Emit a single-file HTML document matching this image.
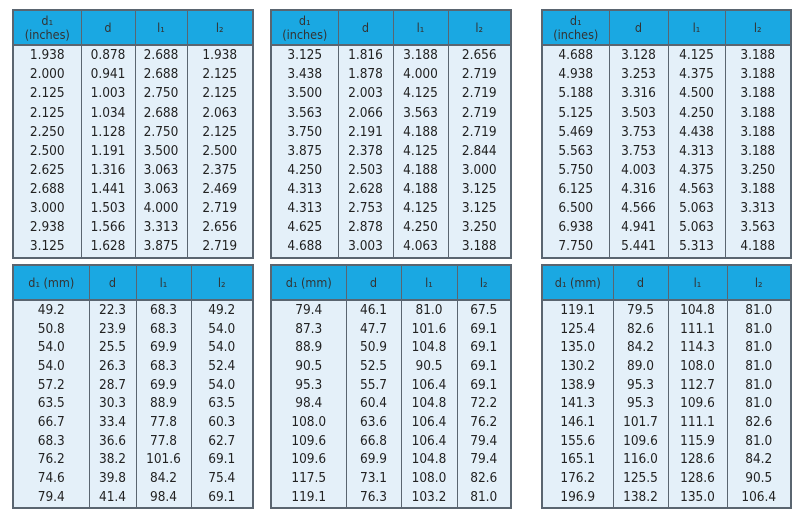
<!DOCTYPE html>
<html><head><meta charset="utf-8"><style>
body{margin:0;width:800px;height:515px;background:#fff;overflow:hidden;font-family:"DejaVu Sans Condensed","Liberation Sans",sans-serif;}
table{position:absolute;border-collapse:collapse;table-layout:fixed;border:2px solid #5a6570;background:#e4f0f9;}
td,th{text-align:center;color:#222;font-size:13.5px;padding:0;border-left:1px solid #5a6570;line-height:1}
th{background:#1aa8e2;font-weight:normal;color:#333;border-bottom:2px solid #5a6570;font-size:12.5px;line-height:1.1}
</style></head><body>
<table style="left:12px;top:9px;width:242px;height:250px">
<col style="width:68px"><col style="width:54px"><col style="width:52px"><col>
<tr style="height:35px"><th>d₁<br>(inches)</th><th>d</th><th>l₁</th><th>l₂</th></tr>
<tr><td>1.938</td><td>0.878</td><td>2.688</td><td>1.938</td></tr>
<tr><td>2.000</td><td>0.941</td><td>2.688</td><td>2.125</td></tr>
<tr><td>2.125</td><td>1.003</td><td>2.750</td><td>2.125</td></tr>
<tr><td>2.125</td><td>1.034</td><td>2.688</td><td>2.063</td></tr>
<tr><td>2.250</td><td>1.128</td><td>2.750</td><td>2.125</td></tr>
<tr><td>2.500</td><td>1.191</td><td>3.500</td><td>2.500</td></tr>
<tr><td>2.625</td><td>1.316</td><td>3.063</td><td>2.375</td></tr>
<tr><td>2.688</td><td>1.441</td><td>3.063</td><td>2.469</td></tr>
<tr><td>3.000</td><td>1.503</td><td>4.000</td><td>2.719</td></tr>
<tr><td>2.938</td><td>1.566</td><td>3.313</td><td>2.656</td></tr>
<tr><td>3.125</td><td>1.628</td><td>3.875</td><td>2.719</td></tr>
</table>
<table style="left:270px;top:9px;width:242px;height:250px">
<col style="width:67px"><col style="width:55px"><col style="width:55px"><col>
<tr style="height:35px"><th>d₁<br>(inches)</th><th>d</th><th>l₁</th><th>l₂</th></tr>
<tr><td>3.125</td><td>1.816</td><td>3.188</td><td>2.656</td></tr>
<tr><td>3.438</td><td>1.878</td><td>4.000</td><td>2.719</td></tr>
<tr><td>3.500</td><td>2.003</td><td>4.125</td><td>2.719</td></tr>
<tr><td>3.563</td><td>2.066</td><td>3.563</td><td>2.719</td></tr>
<tr><td>3.750</td><td>2.191</td><td>4.188</td><td>2.719</td></tr>
<tr><td>3.875</td><td>2.378</td><td>4.125</td><td>2.844</td></tr>
<tr><td>4.250</td><td>2.503</td><td>4.188</td><td>3.000</td></tr>
<tr><td>4.313</td><td>2.628</td><td>4.188</td><td>3.125</td></tr>
<tr><td>4.313</td><td>2.753</td><td>4.125</td><td>3.125</td></tr>
<tr><td>4.625</td><td>2.878</td><td>4.250</td><td>3.250</td></tr>
<tr><td>4.688</td><td>3.003</td><td>4.063</td><td>3.188</td></tr>
</table>
<table style="left:541px;top:9px;width:251px;height:250px">
<col style="width:67px"><col style="width:59px"><col style="width:57px"><col>
<tr style="height:35px"><th>d₁<br>(inches)</th><th>d</th><th>l₁</th><th>l₂</th></tr>
<tr><td>4.688</td><td>3.128</td><td>4.125</td><td>3.188</td></tr>
<tr><td>4.938</td><td>3.253</td><td>4.375</td><td>3.188</td></tr>
<tr><td>5.188</td><td>3.316</td><td>4.500</td><td>3.188</td></tr>
<tr><td>5.125</td><td>3.503</td><td>4.250</td><td>3.188</td></tr>
<tr><td>5.469</td><td>3.753</td><td>4.438</td><td>3.188</td></tr>
<tr><td>5.563</td><td>3.753</td><td>4.313</td><td>3.188</td></tr>
<tr><td>5.750</td><td>4.003</td><td>4.375</td><td>3.250</td></tr>
<tr><td>6.125</td><td>4.316</td><td>4.563</td><td>3.188</td></tr>
<tr><td>6.500</td><td>4.566</td><td>5.063</td><td>3.313</td></tr>
<tr><td>6.938</td><td>4.941</td><td>5.063</td><td>3.563</td></tr>
<tr><td>7.750</td><td>5.441</td><td>5.313</td><td>4.188</td></tr>
</table>
<table style="left:12px;top:264px;width:242px;height:245px">
<col style="width:76px"><col style="width:47px"><col style="width:55px"><col>
<tr style="height:35px"><th>d₁ (mm)</th><th>d</th><th>l₁</th><th>l₂</th></tr>
<tr><td>49.2</td><td>22.3</td><td>68.3</td><td>49.2</td></tr>
<tr><td>50.8</td><td>23.9</td><td>68.3</td><td>54.0</td></tr>
<tr><td>54.0</td><td>25.5</td><td>69.9</td><td>54.0</td></tr>
<tr><td>54.0</td><td>26.3</td><td>68.3</td><td>52.4</td></tr>
<tr><td>57.2</td><td>28.7</td><td>69.9</td><td>54.0</td></tr>
<tr><td>63.5</td><td>30.3</td><td>88.9</td><td>63.5</td></tr>
<tr><td>66.7</td><td>33.4</td><td>77.8</td><td>60.3</td></tr>
<tr><td>68.3</td><td>36.6</td><td>77.8</td><td>62.7</td></tr>
<tr><td>76.2</td><td>38.2</td><td>101.6</td><td>69.1</td></tr>
<tr><td>74.6</td><td>39.8</td><td>84.2</td><td>75.4</td></tr>
<tr><td>79.4</td><td>41.4</td><td>98.4</td><td>69.1</td></tr>
</table>
<table style="left:270px;top:264px;width:242px;height:245px">
<col style="width:75px"><col style="width:55px"><col style="width:56px"><col>
<tr style="height:35px"><th>d₁ (mm)</th><th>d</th><th>l₁</th><th>l₂</th></tr>
<tr><td>79.4</td><td>46.1</td><td>81.0</td><td>67.5</td></tr>
<tr><td>87.3</td><td>47.7</td><td>101.6</td><td>69.1</td></tr>
<tr><td>88.9</td><td>50.9</td><td>104.8</td><td>69.1</td></tr>
<tr><td>90.5</td><td>52.5</td><td>90.5</td><td>69.1</td></tr>
<tr><td>95.3</td><td>55.7</td><td>106.4</td><td>69.1</td></tr>
<tr><td>98.4</td><td>60.4</td><td>104.8</td><td>72.2</td></tr>
<tr><td>108.0</td><td>63.6</td><td>106.4</td><td>76.2</td></tr>
<tr><td>109.6</td><td>66.8</td><td>106.4</td><td>79.4</td></tr>
<tr><td>109.6</td><td>69.9</td><td>104.8</td><td>79.4</td></tr>
<tr><td>117.5</td><td>73.1</td><td>108.0</td><td>82.6</td></tr>
<tr><td>119.1</td><td>76.3</td><td>103.2</td><td>81.0</td></tr>
</table>
<table style="left:541px;top:264px;width:251px;height:245px">
<col style="width:71px"><col style="width:55px"><col style="width:59px"><col>
<tr style="height:35px"><th>d₁ (mm)</th><th>d</th><th>l₁</th><th>l₂</th></tr>
<tr><td>119.1</td><td>79.5</td><td>104.8</td><td>81.0</td></tr>
<tr><td>125.4</td><td>82.6</td><td>111.1</td><td>81.0</td></tr>
<tr><td>135.0</td><td>84.2</td><td>114.3</td><td>81.0</td></tr>
<tr><td>130.2</td><td>89.0</td><td>108.0</td><td>81.0</td></tr>
<tr><td>138.9</td><td>95.3</td><td>112.7</td><td>81.0</td></tr>
<tr><td>141.3</td><td>95.3</td><td>109.6</td><td>81.0</td></tr>
<tr><td>146.1</td><td>101.7</td><td>111.1</td><td>82.6</td></tr>
<tr><td>155.6</td><td>109.6</td><td>115.9</td><td>81.0</td></tr>
<tr><td>165.1</td><td>116.0</td><td>128.6</td><td>84.2</td></tr>
<tr><td>176.2</td><td>125.5</td><td>128.6</td><td>90.5</td></tr>
<tr><td>196.9</td><td>138.2</td><td>135.0</td><td>106.4</td></tr>
</table>
</body></html>
